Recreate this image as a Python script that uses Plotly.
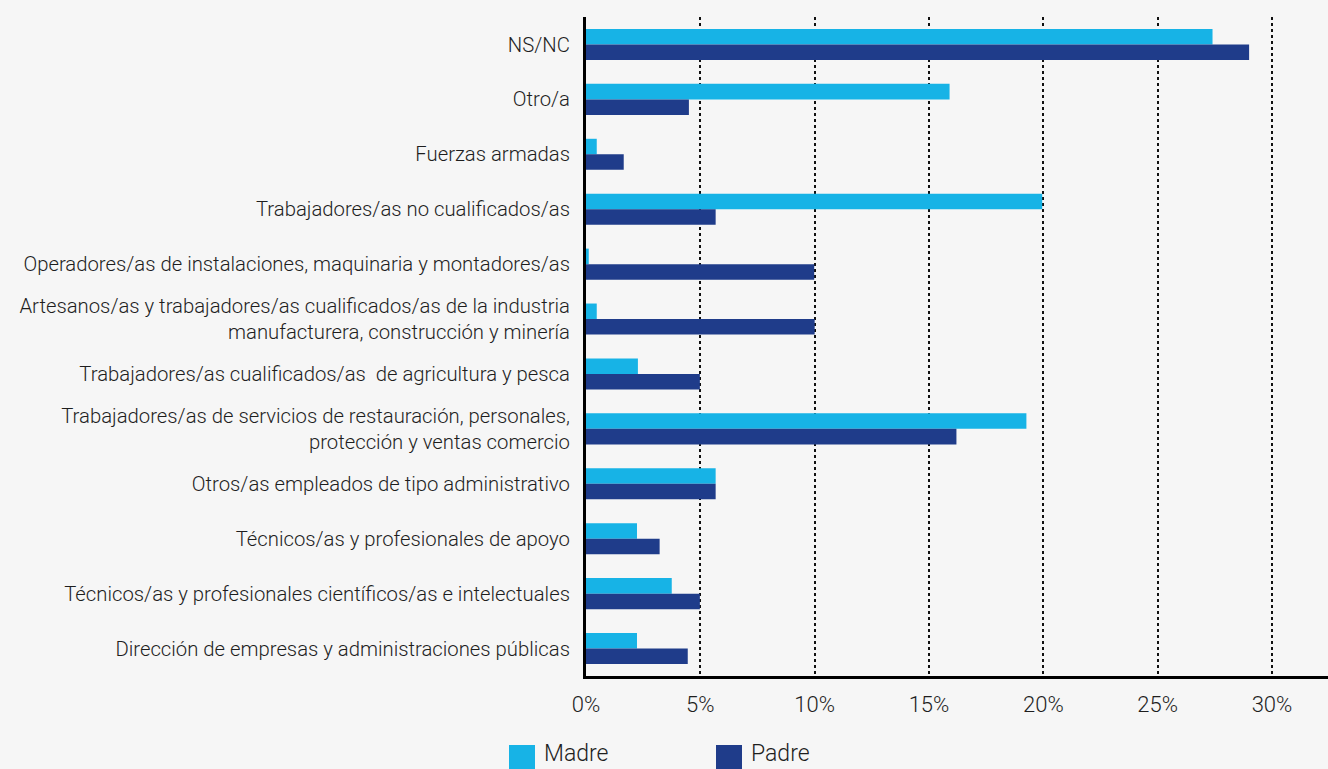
import plotly.graph_objects as go

categories = [
    "NS/NC",
    "Otro/a",
    "Fuerzas armadas",
    "Trabajadores/as no cualificados/as",
    "Operadores/as de instalaciones, maquinaria y montadores/as",
    "Artesanos/as y trabajadores/as cualificados/as de la industria<br>manufacturera, construcción y minería",
    "Trabajadores/as cualificados/as  de agricultura y pesca",
    "Trabajadores/as de servicios de restauración, personales,<br>protección y ventas comercio",
    "Otros/as empleados de tipo administrativo",
    "Técnicos/as y profesionales de apoyo",
    "Técnicos/as y profesionales científicos/as e intelectuales",
    "Dirección de empresas y administraciones públicas",
]
madre = [27.4, 15.9, 0.47, 19.95, 0.12, 0.47, 2.27, 19.26, 5.67, 2.23, 3.75, 2.23]
padre = [29.0, 4.5, 1.65, 5.67, 9.98, 10.0, 4.98, 16.2, 5.67, 3.22, 4.98, 4.45]
tick_vals = [0, 5, 10, 15, 20, 25, 30]
tick_text = ["0%", "5%", "10%", "15%", "20%", "25%", "30%"]
series_names = ["Madre", "Padre"]
series_colors = ["#17b3e6", "#1f3c8a"]

FONT = "Roboto"
WEIGHT = 300
TEXT = "#1e1e1e"
W, H = 1328, 769
ML, MR, MT, MB = 586, 0, 17, 93
PW, PH = W - ML - MR, H - MT - MB


def px_x(x):
    return (x - ML) / PW


def px_y(y):
    return (H - MB - y) / PH


fig = go.Figure()
for name, vals, col in zip(series_names, [madre, padre], series_colors):
    fig.add_trace(go.Bar(name=name, y=categories, x=vals, orientation="h",
                         showlegend=False, hoverinfo="x+y",
                         marker=dict(color=col, line=dict(width=0))))

# legend drawn manually (large square swatches)
legend_x = [509, 716]
shapes = []
annotations = []
for lx, name, col in zip(legend_x, series_names, series_colors):
    shapes.append(dict(type="rect", xref="paper", yref="paper",
                       x0=px_x(lx), x1=px_x(lx + 26), y0=px_y(745), y1=px_y(775),
                       fillcolor=col, line=dict(width=0)))
    annotations.append(dict(xref="paper", yref="paper", x=px_x(lx + 33), y=px_y(753.5),
                            xanchor="left", yanchor="middle", showarrow=False,
                            text=name,
                            font=dict(size=23, family=FONT, weight=WEIGHT, color=TEXT)))

fig.update_layout(
    width=W, height=H,
    paper_bgcolor="#f6f6f6", plot_bgcolor="#f6f6f6",
    margin=dict(l=ML, r=MR, t=MT, b=MB, autoexpand=False),
    barmode="group", bargap=0.435, bargroupgap=0,
    font=dict(family=FONT, weight=WEIGHT, color=TEXT),
    showlegend=False,
    shapes=shapes,
    annotations=annotations,
    xaxis=dict(range=[0, 32.45], tickvals=tick_vals, ticktext=tick_text,
               showgrid=True, gridcolor="#111111", griddash="dot", gridwidth=1.5,
               zeroline=False, showline=True, linecolor="#000000", linewidth=3,
               ticks="", tickfont=dict(size=22, family=FONT, weight=WEIGHT, color=TEXT),
               ticklabelstandoff=7),
    yaxis=dict(autorange="reversed", showgrid=False, zeroline=False,
               showline=True, linecolor="#000000", linewidth=3, ticks="",
               tickfont=dict(size=20.3, family=FONT, weight=WEIGHT, color=TEXT),
               ticklabelstandoff=9),
)
fig.write_html("out.html", config={"displayModeBar": False},
               post_script="document.body.style.margin='0px';")
